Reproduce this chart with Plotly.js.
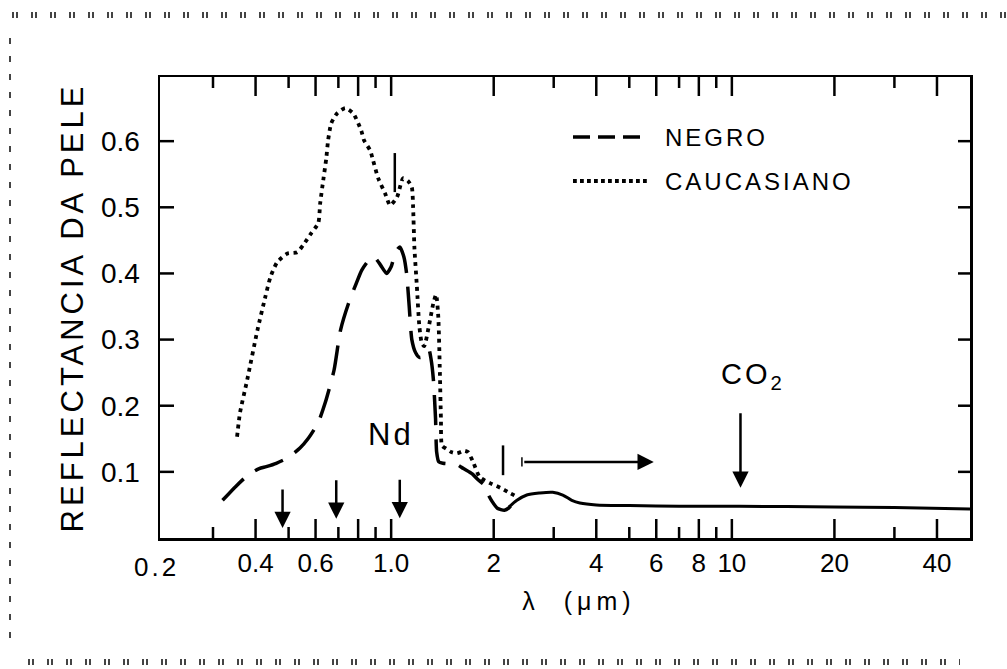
<!DOCTYPE html>
<html>
<head>
<meta charset="utf-8">
<script src="https://cdn.plot.ly/plotly-3.0.1.min.js"></script>
<style>
  html, body { margin: 0; padding: 0; background: #fff; }
  #chart { width: 1007px; height: 669px; }
  .ytitle { letter-spacing: 4px; }
  .xtitle { letter-spacing: 5px; transform: translateX(14px); }
  .annotation-text { letter-spacing: 3px; }
</style>
</head>
<body>
<div id="chart"></div>
<script>
// ---- Data ----
const negroLambda = [0.32, 0.35, 0.38, 0.41, 0.43, 0.46, 0.50, 0.54, 0.57, 0.61, 0.64, 0.68, 0.71, 0.75, 0.79, 0.82, 0.86, 0.89, 0.93, 0.97, 1.0, 1.03, 1.06, 1.09, 1.11, 1.13, 1.15, 1.18, 1.21, 1.25, 1.29, 1.31, 1.33, 1.35, 1.36, 1.38, 1.42, 1.50, 1.55, 1.63, 1.73, 1.80, 1.88, 1.93, 1.98, 2.05, 2.15, 2.22, 2.30];
const negroRefl   = [0.057, 0.078, 0.095, 0.105, 0.108, 0.113, 0.122, 0.136, 0.150, 0.174, 0.204, 0.254, 0.314, 0.355, 0.385, 0.405, 0.420, 0.425, 0.413, 0.400, 0.410, 0.432, 0.440, 0.425, 0.400, 0.350, 0.300, 0.280, 0.273, 0.275, 0.285, 0.270, 0.240, 0.180, 0.130, 0.115, 0.113, 0.112, 0.112, 0.105, 0.097, 0.088, 0.080, 0.065, 0.055, 0.045, 0.042, 0.046, 0.055];

const caucLambda = [0.353, 0.36, 0.378, 0.405, 0.427, 0.442, 0.463, 0.496, 0.53, 0.552, 0.583, 0.611, 0.619, 0.632, 0.645, 0.653, 0.667, 0.694, 0.733, 0.774, 0.817, 0.833, 0.868, 0.885, 0.916, 0.96, 0.993, 1.04, 1.084, 1.12, 1.15, 1.16, 1.17, 1.19, 1.21, 1.23, 1.25, 1.29, 1.33, 1.355, 1.375, 1.39, 1.40, 1.41, 1.45, 1.50, 1.56, 1.64, 1.68, 1.74, 1.82, 1.95, 2.09, 2.23, 2.35];
const caucRefl   = [0.153, 0.189, 0.239, 0.314, 0.364, 0.394, 0.417, 0.430, 0.432, 0.443, 0.461, 0.476, 0.506, 0.541, 0.574, 0.601, 0.627, 0.642, 0.650, 0.642, 0.616, 0.601, 0.586, 0.571, 0.544, 0.521, 0.503, 0.515, 0.544, 0.540, 0.530, 0.500, 0.440, 0.380, 0.320, 0.295, 0.290, 0.320, 0.355, 0.368, 0.335, 0.250, 0.180, 0.140, 0.135, 0.130, 0.128, 0.132, 0.130, 0.115, 0.092, 0.083, 0.076, 0.068, 0.062];

// common curve (both skins coincide beyond ~2.3 um)
const commonLambda = [2.22, 2.34, 2.5, 2.73, 2.98, 3.19, 3.39, 3.58, 4.0, 5.0, 7.0, 10.5, 20, 30, 50];
const commonRefl   = [0.047, 0.057, 0.065, 0.068, 0.069, 0.065, 0.057, 0.053, 0.050, 0.049, 0.048, 0.048, 0.047, 0.046, 0.044];

// laser lines marked with arrows (um)
const laserLambda = [0.48, 0.69, 1.06];
const laserTip = [0.015, 0.029, 0.030];
const co2Lambda = 10.6;

// tick values and labels
const xMajorVals = [0.4, 0.6, 0.8, 1, 2, 4, 6, 8, 10, 20, 40];
const xMajorText = ['0.4', '0.6', ' ', '1.0', '2', '4', '6', '8', '10', '20', '40'];
const xMinorVals = [0.3, 0.5, 0.7, 0.9, 3, 5, 7, 9, 30];
const yTickVals = [0.1, 0.2, 0.3, 0.4, 0.5, 0.6];
const yTickText = ['0.1', '0.2', '0.3', '0.4', '0.5', '0.6'];

// ---- Plot ----
const FONT = 'Liberation Sans, Arial, sans-serif';
const L = Math.log10;
const XR = [L(0.2) + 7 / 341, L(50)];
const YR = [0, 0.697];
const PLOT_W = 810, PLOT_H = 461;
const yPerPx = (YR[1] - YR[0]) / PLOT_H;
const decPerPx = (XR[1] - XR[0]) / PLOT_W;

// tick marks drawn inside on all four sides (from the tick value arrays)
function xTickTrace(vals, lenPx) {
  const xs = [], ys = [];
  vals.forEach(function (v) {
    xs.push(v, v, null, v, v, null);
    ys.push(YR[0], YR[0] + lenPx * yPerPx, null, YR[1], YR[1] - lenPx * yPerPx, null);
  });
  return { x: xs, y: ys, type: 'scatter', mode: 'lines', hoverinfo: 'skip', showlegend: false,
    line: { color: '#000', width: 2.5 }, connectgaps: false, cliponaxis: false };
}
function yTickTrace(vals, lenLeft, lenRight) {
  const xs = [], ys = [];
  const xl0 = Math.pow(10, XR[0]), xl1 = Math.pow(10, XR[0] + lenLeft * decPerPx);
  const xr0 = Math.pow(10, XR[1]), xr1 = Math.pow(10, XR[1] - lenRight * decPerPx);
  vals.forEach(function (v) {
    xs.push(xl0, xl1, null, xr0, xr1, null);
    ys.push(v, v, null, v, v, null);
  });
  return { x: xs, y: ys, type: 'scatter', mode: 'lines', hoverinfo: 'skip', showlegend: false,
    line: { color: '#000', width: 2.5 }, connectgaps: false, cliponaxis: false };
}

const traces = [
  { x: negroLambda, y: negroRefl, type: 'scatter', mode: 'lines', name: 'NEGRO',
    line: { color: '#000', width: 3.5, dash: '30px,14px', shape: 'spline', smoothing: 0.6 }, showlegend: false },
  { x: caucLambda, y: caucRefl, type: 'scatter', mode: 'lines', name: 'CAUCASIANO',
    line: { color: '#000', width: 3.8, dash: '3.8px,4.5px', shape: 'spline', smoothing: 0.6 }, showlegend: false },
  { x: commonLambda, y: commonRefl, type: 'scatter', mode: 'lines', name: 'comum',
    line: { color: '#000', width: 3, shape: 'spline', smoothing: 0.8 }, showlegend: false },
  xTickTrace(xMajorVals, 19),
  xTickTrace(xMinorVals, 11),
  yTickTrace(yTickVals, 14, 12)
];

const annotations = [];
laserLambda.forEach(function (lam, i) {
  annotations.push({ x: L(lam), y: laserTip[i], xref: 'x', yref: 'y', text: '', showarrow: true,
    arrowhead: 2, arrowsize: 1.3, arrowwidth: 2.5, arrowcolor: '#000', ax: 0, ay: -40, standoff: 0 });
});
annotations.push({ x: L(co2Lambda), y: 0.076, xref: 'x', yref: 'y', text: '', showarrow: true,
  arrowhead: 2, arrowsize: 1.3, arrowwidth: 2.5, arrowcolor: '#000', ax: 0, ay: -76, standoff: 0 });
annotations.push({ x: L(5.9), y: 0.115, xref: 'x', yref: 'y', text: '', showarrow: true,
  arrowhead: 2, arrowsize: 1.3, arrowwidth: 2.5, arrowcolor: '#000', ax: -131, ay: 0, standoff: 0 });
annotations.push({ x: L(1.0), y: 0.157, xref: 'x', yref: 'y', text: 'Nd', showarrow: false,
  font: { family: FONT, size: 31, color: '#000' } });
annotations.push({ x: L(11.5), y: 0.245, xref: 'x', yref: 'y', text: 'CO<sub>2</sub>', showarrow: false,
  font: { family: FONT, size: 29, color: '#000' } });
annotations.push({ x: (663 - 160) / 810, y: (538 - 137) / 461, xref: 'paper', yref: 'paper', xanchor: 'left', yanchor: 'middle',
  text: 'NEGRO', showarrow: false, font: { family: FONT, size: 24, color: '#000' } });
annotations.push({ x: (663 - 160) / 810, y: (538 - 181) / 461, xref: 'paper', yref: 'paper', xanchor: 'left', yanchor: 'middle',
  text: 'CAUCASIANO', showarrow: false, font: { family: FONT, size: 24, color: '#000' } });
// tick label just left of the plotted range
annotations.push({ x: (156 - 160) / 810, y: 0, xref: 'paper', yref: 'paper', xanchor: 'center', yanchor: 'top', yshift: -12,
  text: '0.2', showarrow: false, font: { family: FONT, size: 26, color: '#000' } });

const px = (p) => (p - 160) / 810;
const py = (p) => (538 - p) / 461;
const shapes = [
  // legend samples
  { type: 'line', xref: 'paper', yref: 'paper', x0: px(573), x1: px(641), y0: py(137), y1: py(137),
    line: { color: '#000', width: 3.5, dash: '17px,8px' } },
  { type: 'line', xref: 'paper', yref: 'paper', x0: px(573), x1: px(648), y0: py(181), y1: py(181),
    line: { color: '#000', width: 3.8, dash: '3.8px,3.2px' } },
  // vertical marker bars
  { type: 'line', xref: 'x', yref: 'y', x0: 1.025, x1: 1.025, y0: 0.523, y1: 0.582, line: { color: '#000', width: 2.5 } },
  { type: 'line', xref: 'x', yref: 'y', x0: 2.13, x1: 2.13, y0: 0.095, y1: 0.140, line: { color: '#000', width: 2.5 } },
  { type: 'line', xref: 'x', yref: 'y', x0: 2.42, x1: 2.42, y0: 0.108, y1: 0.122, line: { color: '#000', width: 1.5 } },
  // scanned page frame marks
  { type: 'line', xref: 'paper', yref: 'paper', x0: px(12), x1: px(1007), y0: py(15), y1: py(15),
    line: { color: '#444', width: 6, dash: '2px,2px,2px,13px' } },
  { type: 'line', xref: 'paper', yref: 'paper', x0: px(28), x1: px(960), y0: py(662), y1: py(662),
    line: { color: '#444', width: 6, dash: '2px,2px,2px,13px' } },
  { type: 'line', xref: 'paper', yref: 'paper', x0: px(10), x1: px(10), y0: py(38), y1: py(650),
    line: { color: '#444', width: 2, dash: '6px,12px' } }
];

const layout = {
  width: 1007, height: 669,
  margin: { l: 160, r: 37, t: 77, b: 131 },
  paper_bgcolor: '#fff', plot_bgcolor: 'rgba(0,0,0,0)',
  font: { family: FONT, color: '#000' },
  showlegend: false,
  xaxis: {
    type: 'log', range: XR, autorange: false,
    showgrid: false, zeroline: false,
    showline: true, linecolor: '#000', linewidth: 2.5, mirror: true,
    ticks: 'inside', ticklen: 19, tickwidth: 2.5, tickcolor: 'rgba(0,0,0,0)',
    tickmode: 'array', tickvals: xMajorVals, ticktext: xMajorText,
    tickfont: { family: FONT, size: 26, color: '#000' },
    title: { text: 'λ\u00a0\u00a0(μm)', font: { family: FONT, size: 25, color: '#000' }, standoff: 16 }
  },
  yaxis: {
    range: YR, autorange: false,
    showgrid: false, zeroline: false,
    showline: true, linecolor: '#000', linewidth: 2.5, mirror: true,
    ticks: 'inside', ticklen: 14, tickwidth: 2.5, tickcolor: 'rgba(0,0,0,0)',
    tickmode: 'array', tickvals: yTickVals, ticktext: yTickText,
    tickfont: { family: FONT, size: 28, color: '#000' },
    ticklabelstandoff: 12,
    title: { text: 'REFLECTANCIA DA PELE', font: { family: FONT, size: 31, color: '#000' }, standoff: 8 }
  },
  annotations: annotations,
  shapes: shapes
};

Plotly.newPlot('chart', traces, layout, { staticPlot: true, displayModeBar: false });
</script>
</body>
</html>
